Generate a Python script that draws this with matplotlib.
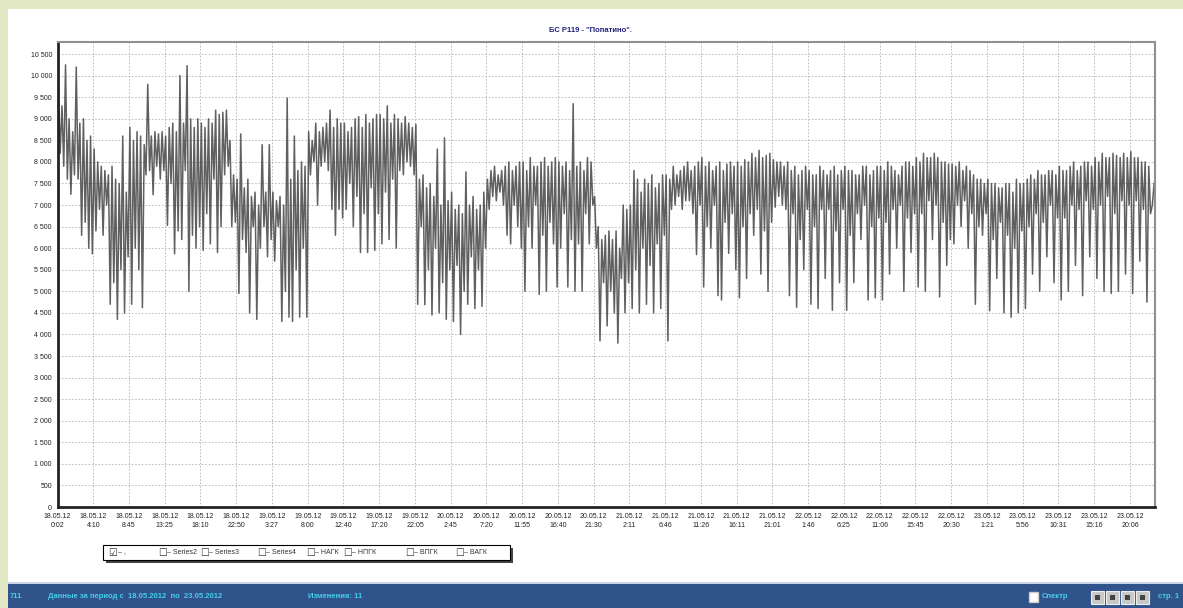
import numpy as np
import matplotlib
matplotlib.use("Agg")
import matplotlib.pyplot as plt
from matplotlib.patches import Rectangle

plt.rcParams['font.family'] = ['Liberation Sans', 'DejaVu Sans']

# подписи оси X (категории, через равные промежутки)
dates = ["18.05.12"] * 6 + ["19.05.12"] * 5 + ["20.05.12"] * 5 + \
        ["21.05.12"] * 5 + ["22.05.12"] * 5 + ["23.05.12"] * 5
times = ["0:02", "4:10", "8:45", "13:25", "18:10", "22:50",
         "3:27", "8:00", "12:40", "17:20", "22:05",
         "2:45", "7:20", "11:55", "16:40", "21:30",
         "2:11", "6:46", "11:26", "16:11", "21:01",
         "1:46", "6:25", "11:06", "15:45", "20:30",
         "1:21", "5:56", "10:31", "15:16", "20:06"]

yticks = list(range(0, 10501, 500))

# значения (по 20 отсчетов на интервал между подписями)
values = [
    9700, 8200, 9300, 7900, 10250, 7600, 9000, 7250, 8700, 7700,
    10200, 7600, 8900, 6300, 9000, 6600, 8500, 6000, 8600, 5870,    # 0
    8300, 6400, 8000, 6900, 7900, 6300, 7800, 7000, 7700, 4700,
    7900, 5200, 7600, 4350, 7500, 5500, 8600, 4500, 7300, 5800,     # 1
    8800, 4700, 8500, 6000, 8700, 5500, 8600, 4620, 8400, 7700,
    9800, 7800, 8600, 7240, 8700, 7900, 8650, 7600, 8700, 7800,     # 2
    8600, 6530, 8800, 7500, 8900, 5870, 8700, 6400, 10000, 6200,
    8900, 7800, 10230, 5000, 9000, 6300, 8800, 6000, 9000, 6500,    # 3
    8900, 5950, 8800, 6800, 9000, 6100, 8900, 7600, 9200, 5900,
    9100, 6500, 9150, 7700, 9200, 7900, 8500, 6500, 7700, 6600,     # 4
    7600, 4950, 8650, 6200, 7400, 5900, 7600, 4500, 7200, 6500,
    7300, 4350, 7000, 6000, 8400, 6500, 7300, 5800, 8400, 6200,     # 5
    7300, 5700, 7100, 6500, 7200, 4300, 7000, 5000, 9480, 4400,
    7600, 4300, 8600, 5500, 7800, 4400, 8000, 6000, 7900, 4400,     # 6
    8700, 7700, 8500, 8000, 8900, 7000, 8700, 7900, 8800, 8000,
    8900, 7800, 9200, 6900, 8800, 6300, 9000, 6900, 8900, 6700,     # 7
    8900, 6900, 8700, 7500, 8800, 6500, 9000, 7200, 9050, 5900,
    8800, 6800, 9100, 5900, 8900, 7400, 9000, 5950, 9100, 6800,     # 8
    9100, 6100, 9000, 7300, 9300, 6200, 8900, 7600, 9100, 6000,
    9000, 7800, 8900, 7700, 9050, 8000, 8900, 7900, 8800, 7700,     # 9
    8870, 4700, 7600, 6500, 7700, 4690, 7400, 5500, 7500, 4450,
    7200, 6000, 8300, 4500, 7000, 5200, 8560, 4350, 7100, 5500,     # 10
    7300, 4300, 6900, 5600, 7000, 4000, 6800, 5000, 7770, 4700,
    7000, 5800, 7200, 4600, 6900, 5500, 7000, 4650, 7300, 6000,     # 11
    7600, 6900, 7800, 7200, 7900, 7100, 7700, 7300, 7800, 7000,
    7900, 6300, 8000, 6100, 7800, 7000, 7900, 6500, 8000, 6000,     # 12
    8000, 5000, 7800, 6500, 8100, 6000, 7900, 7000, 7900, 4930,
    8000, 6300, 8100, 5000, 7900, 6600, 8000, 6100, 8100, 5100,     # 13
    8000, 6000, 7900, 6800, 8000, 5100, 7800, 6200, 9350, 5000,
    7900, 6100, 8000, 5000, 7800, 6800, 8100, 6100, 8000, 7000,     # 14
    7200, 6000, 6500, 3850, 6200, 5200, 6300, 4200, 6400, 5000,
    6200, 4500, 6400, 3800, 6000, 5300, 7000, 4500, 6900, 5200,     # 15
    7000, 4600, 7800, 5500, 7600, 4500, 7300, 6000, 7600, 4700,
    7500, 5600, 7700, 4500, 7400, 6100, 7500, 4600, 7700, 6300,     # 16
    7700, 3850, 7600, 6900, 7900, 7000, 7700, 7200, 7800, 6900,
    7900, 7100, 8000, 7100, 7800, 6800, 7900, 5850, 8000, 7000,     # 17
    8100, 5100, 7900, 6500, 8000, 6000, 7800, 7000, 7900, 4900,
    8000, 4800, 7800, 6600, 7950, 5880, 8000, 6800, 7900, 5500,     # 18
    8000, 4850, 7900, 6500, 8050, 5300, 8000, 6800, 8200, 6300,
    8100, 6900, 8270, 5400, 8100, 6400, 8150, 5000, 8200, 6600,     # 19
    8050, 6950, 8000, 7200, 8000, 7000, 7900, 6900, 8000, 4900,
    7800, 6800, 7900, 4630, 7700, 6200, 7800, 5500, 7900, 6900,     # 20
    7800, 4700, 7700, 6500, 7700, 4600, 7900, 6900, 7800, 5300,
    7700, 6900, 7800, 4560, 7900, 6400, 7700, 5200, 7800, 6900,     # 21
    7900, 4560, 7800, 6300, 7800, 5200, 7700, 6800, 7700, 6200,
    7900, 7000, 7900, 4800, 7700, 6500, 7800, 4850, 7900, 6700,     # 22
    7900, 4800, 7800, 6600, 8000, 5400, 7900, 6900, 7800, 6000,
    7700, 7000, 7900, 5000, 8000, 6700, 8000, 5900, 7900, 6800,     # 23
    8100, 5100, 8000, 6800, 8200, 5000, 8100, 7100, 8100, 6200,
    8200, 7000, 8100, 4870, 8000, 6600, 8000, 5600, 7950, 6200,     # 24
    7950, 6100, 7900, 7000, 8000, 6500, 7800, 7100, 7900, 6000,
    7800, 6800, 7700, 4700, 7600, 6500, 7600, 6300, 7500, 6800,     # 25
    7600, 4550, 7500, 6200, 7500, 5300, 7400, 6600, 7400, 4500,
    7500, 6300, 7500, 4400, 7300, 6000, 7600, 4500, 7500, 6400,     # 26
    7500, 4600, 7600, 6500, 7700, 5400, 7600, 6800, 7800, 5000,
    7700, 6600, 7700, 5800, 7800, 7000, 7800, 5200, 7700, 6700,     # 27
    7900, 4800, 7800, 6700, 7800, 5000, 7900, 7000, 8000, 5600,
    7800, 6900, 7900, 4900, 8000, 7100, 8000, 5800, 7900, 6900,     # 28
    8100, 5300, 8000, 7000, 8200, 5000, 8100, 7200, 8100, 4950,
    8200, 6800, 8150, 5000, 8100, 7100, 8200, 5400, 8100, 7000,     # 29
    8240, 4950, 8100, 7100, 8100, 5700, 8000, 6900, 8000, 4750,
    7900, 6800, 7000, 7500,                                         # 30
]

W, H = 1183, 608
fig = plt.figure(figsize=(W / 100, H / 100), dpi=100)
fig.patch.set_facecolor('#e3e8c4')


def frect(x0, y0, w, h, **kw):
    # прямоугольник в пикселях (от верхнего левого угла картинки)
    r = Rectangle((x0 / W, 1 - (y0 + h) / H), w / W, h / H,
                  transform=fig.transFigure, **kw)
    fig.patches.append(r)
    return r


# белая панель и синяя строка состояния
frect(8, 9, W - 8, 574, fc='white', ec='none', zorder=-2)
frect(8, 583, W - 8, 25, fc='#30538b', ec='none', zorder=-2)
frect(8, 582, W - 8, 2, fc='#c9d5e6', ec='none', zorder=-2)

ax = fig.add_axes([57.5 / W, 1 - 507 / H, (1155 - 57.5) / W, (507 - 42) / H])
ax.set_facecolor('white')

x = np.arange(len(values)) / 20.0 + 0.025
ax.plot(x, values, color='#444444', lw=1.1, alpha=0.85)

ax.set_xlim(0, 30.7)
ax.set_ylim(0, 10780)

ax.set_yticks(yticks)
ax.set_yticklabels(["{:,}".format(v).replace(",", " ") for v in yticks])
ax.set_xticks(range(len(times)))
ax.set_xticklabels([d + "\n" + t for d, t in zip(dates, times)], linespacing=1.5)
ax.tick_params(labelsize=5, colors='#222222', length=0, pad=4)

ax.grid(True, color='#b4b4b4', linestyle=(0, (2, 2)), lw=0.6)
ax.set_axisbelow(True)
for s in ['left', 'bottom']:
    ax.spines[s].set_linewidth(2)
    ax.spines[s].set_color('#222222')
for s in ['top', 'right']:
    ax.spines[s].set_linewidth(1.5)
    ax.spines[s].set_color('#909090')

fig.text(590 / W, 1 - 31 / H, 'БС Р119 - "Попатино".', ha='center', va='center',
         fontsize=5.5, fontweight='bold', color='#22227a')

# легенда
frect(106, 548, 407, 15, fc='#444444', ec='none')
frect(103, 545, 407, 15, fc='white', ec='black', lw=0.8)
legend_items = [(108, "☑"), (118, "– ,"), (158, "☐"), (167, "– Series2"),
                (200, "☐"), (209, "– Series3"), (257, "☐"), (266, "– Series4"),
                (306, "☐"), (315, "– НАГК"), (343, "☐"), (352, "– НПГК"),
                (405, "☐"), (414, "– ВПГК"), (455, "☐"), (464, "– ВАГК")]
for px, txt in legend_items:
    fs = 7 if txt in ("☑", "☐") else 5
    fig.text(px / W, 1 - 552.5 / H, txt, ha='left', va='center', fontsize=fs,
             color='#333333', family=['DejaVu Sans'] if fs == 7 else None)

# строка состояния
cyan = '#45cfe6'
fig.text(10 / W, 12 / H, "711", ha='left', va='center', fontsize=5.5,
         fontweight='bold', color=cyan)
fig.text(48 / W, 12 / H, "Данные за период с  18.05.2012  по  23.05.2012",
         ha='left', va='center', fontsize=5.5, fontweight='bold', color=cyan)
fig.text(308 / W, 12 / H, "Изменения: 11", ha='left', va='center',
         fontsize=5.5, fontweight='bold', color=cyan)
frect(1029, 592, 9, 10, fc='white', ec='#cccccc')
fig.text(1042 / W, 12 / H, "Спектр", ha='left', va='center', fontsize=5.5,
         fontweight='bold', color=cyan)
for bx in [1091, 1106, 1121, 1136]:
    frect(bx, 591, 13, 13, fc='#c8c8c8', ec='#eeeeee', lw=0.8)
    frect(bx + 4, 595, 5, 5, fc='#444444', ec='none')
fig.text(1158 / W, 12 / H, "стр. 1", ha='left', va='center', fontsize=5.5,
         fontweight='bold', color=cyan)

fig.savefig('out.png', dpi=100, facecolor=fig.get_facecolor())
